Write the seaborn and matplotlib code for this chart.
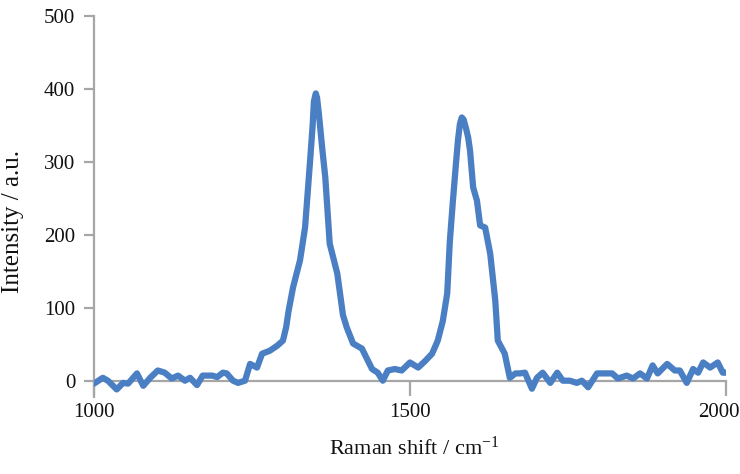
import matplotlib
matplotlib.use("Agg")
import matplotlib.pyplot as plt
import matplotlib.transforms as mtransforms
import seaborn as sns
import pandas as pd

raman_shift = [1000, 1014, 1022, 1036, 1046, 1054, 1068, 1078, 1089, 1101, 1112, 1123,
               1133, 1144, 1152, 1163, 1172, 1187, 1195, 1204, 1210, 1220, 1228, 1239,
               1247, 1258, 1266, 1278, 1290, 1299, 1304, 1308, 1315, 1326, 1334, 1342,
               1346, 1348, 1351, 1353, 1356, 1361, 1366, 1373, 1385, 1394, 1400, 1410,
               1424, 1432, 1440, 1449, 1457, 1465, 1476, 1487, 1500, 1513, 1524, 1535,
               1544, 1552, 1559, 1563, 1568, 1573, 1576, 1579, 1582, 1585, 1589, 1592,
               1595, 1600, 1606, 1611, 1619, 1627, 1635, 1639, 1650, 1658, 1667, 1674,
               1682, 1693, 1701, 1710, 1722, 1733, 1742, 1753, 1764, 1772, 1782, 1796,
               1809, 1820, 1829, 1843, 1853, 1864, 1875, 1884, 1892, 1907, 1919, 1927,
               1938, 1948, 1956, 1964, 1975, 1987, 1995, 2000]
intensity = [-4, 4, 0, -12, -3, -4, 10, -7, 4, 14, 11, 3,
             7, 0, 4, -6, 7, 7, 5, 11, 10, 0, -3, 0,
             23, 18, 37, 41, 48, 55, 73, 96, 128, 165, 210, 302,
             350, 383, 394, 388, 365, 320, 279, 188, 147, 90, 73, 51,
             44, 30, 16, 11, 0, 14, 16, 14, 25, 18, 27, 37,
             55, 82, 120, 190, 247, 300, 330, 352, 361, 358, 345, 334,
             316, 265, 247, 213, 210, 174, 110, 55, 37, 4, 10, 10,
             11, -11, 4, 11, -3, 11, 0, 0, -3, 0, -9, 10,
             10, 10, 3, 7, 3, 10, 3, 21, 10, 23, 14, 14,
             -3, 16, 11, 25, 18, 25, 11, 11]

df = pd.DataFrame({"shift": raman_shift, "intensity": intensity})

sns.set_theme(style="white")
plt.rcParams["font.family"] = ["Liberation Serif", "DejaVu Serif"]
plt.rcParams["mathtext.fontset"] = "custom"
plt.rcParams["mathtext.rm"] = "Liberation Serif"
plt.rcParams["mathtext.default"] = "regular"

fig = plt.figure(figsize=(7.4, 4.74), dpi=100)
ax = fig.add_axes([0.127, 0.163, 0.854, 0.803])

sns.lineplot(data=df, x="shift", y="intensity", ax=ax, color="#4a7fc4",
             linewidth=4.5, zorder=3, solid_joinstyle="round", solid_capstyle="round")

ax.set_xlim(1000, 2000)
ax.set_ylim(-22, 500)
ax.set_xticks([1000, 1500, 2000])
ax.set_yticks([0, 100, 200, 300, 400, 500])

gray = "#a6a6a6"
for s in ["top", "right"]:
    ax.spines[s].set_visible(False)
ax.spines["bottom"].set_position(("data", 0))
ax.spines["bottom"].set_color(gray)
ax.spines["bottom"].set_linewidth(1.6)
ax.spines["bottom"].set_zorder(2)
ax.spines["left"].set_color(gray)
ax.spines["left"].set_linewidth(1.6)

ax.tick_params(axis="x", direction="out", length=11, width=1.6, color=gray,
               labelsize=15, pad=5, labelcolor="#111111", bottom=True)
ax.tick_params(axis="y", direction="out", length=7.5, width=1.6, color=gray,
               labelsize=15, pad=6, labelcolor="#111111", left=True)

# nudge the last x tick label slightly left so it stays inside the figure
last = ax.get_xticklabels()[-1]
last.set_transform(last.get_transform() + mtransforms.ScaledTranslation(-7 / 100, 0, fig.dpi_scale_trans))

ax.set_xlabel("Raman shift / cm$^{-1}$", fontsize=16, color="#111111")
ax.set_ylabel("Intensity / a.u.", fontsize=18, color="#111111")
ax.xaxis.set_label_coords(0.507, -0.105)
ax.yaxis.set_label_coords(-0.11, 0.46)

fig.savefig("out.png", dpi=100)
